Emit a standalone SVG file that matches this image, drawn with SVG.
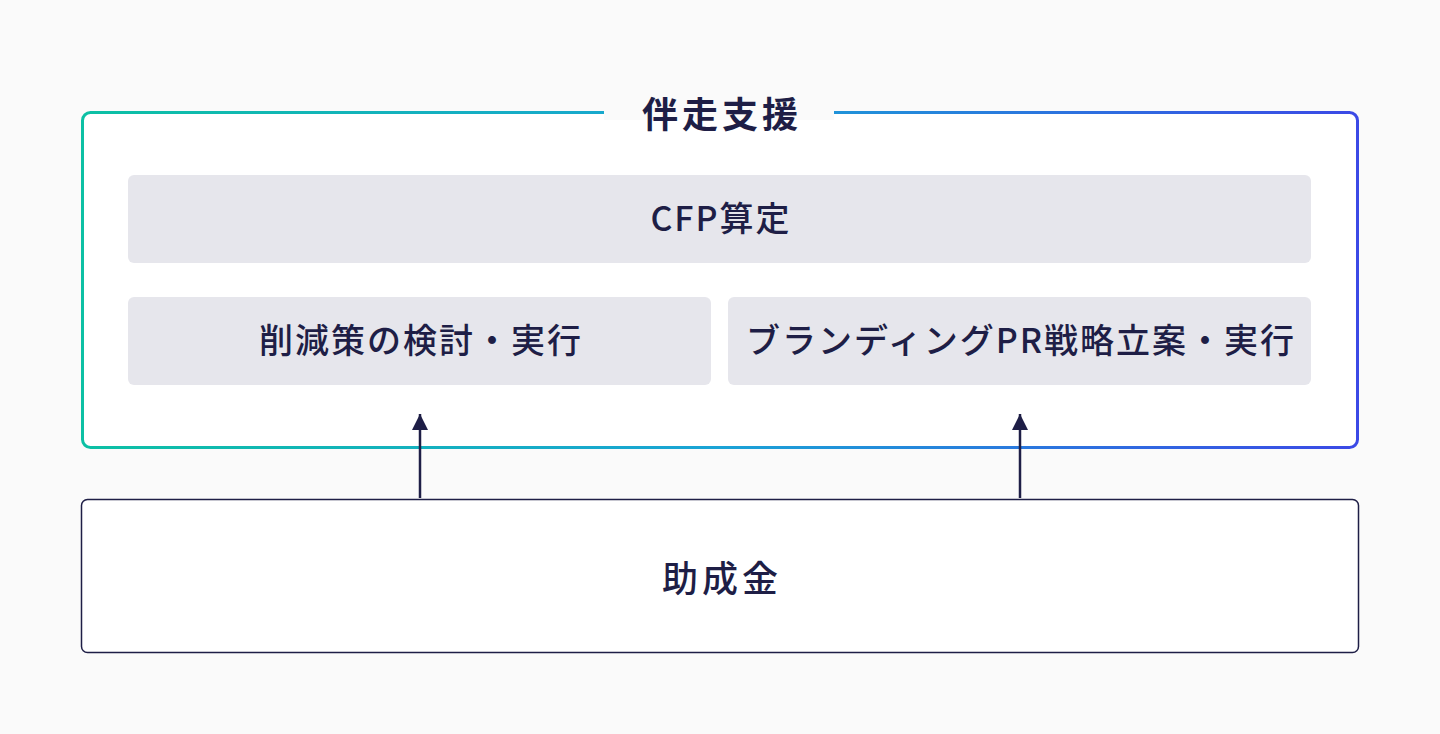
<svg xmlns="http://www.w3.org/2000/svg" width="1440" height="734" viewBox="0 0 1440 734">
<defs>
<linearGradient id="g" x1="0" y1="0" x2="1" y2="0"><stop offset="0" stop-color="#0cc0a4"/><stop offset="0.5" stop-color="#1aa3d6"/><stop offset="1" stop-color="#3b49e6"/></linearGradient>
<marker id="ah" viewBox="0 0 16 16" markerWidth="16" markerHeight="16" refX="16" refY="8" orient="auto" markerUnits="userSpaceOnUse"><path d="M16 8 L0 0 L0 16 Z" fill="#1e1e46"/></marker>
<style>
text{font-family:"Noto Sans CJK JP","Noto Sans",sans-serif;fill:#1e1e46;text-anchor:middle}
.b{fill:#e6e6ec}
.t{font-size:34px;font-weight:500;letter-spacing:2px}
</style>
</defs>
<rect width="1440" height="734" fill="#fafafa"/>
<g id="frame">
<rect x="82.5" y="112.5" width="1275" height="335" rx="8" fill="#fff" stroke="url(#g)" stroke-width="3"/>
<rect x="604" y="100" width="230" height="20" fill="#fafafa"/>
<text x="722" y="128" font-size="36" font-weight="700" letter-spacing="4">伴走支援</text>
</g>
<g id="cfp"><rect class="b" x="128" y="175" width="1183" height="88" rx="6"/><text class="t" x="721" y="231">CFP算定</text></g>
<g id="reduce"><rect class="b" x="128" y="297" width="583" height="88" rx="6"/><text class="t" x="421" y="353">削減策の検討・実行</text></g>
<g id="brand"><rect class="b" x="728" y="297" width="583" height="88" rx="6"/><text class="t" x="1021" y="353">ブランディングPR戦略立案・実行</text></g>
<g id="grant"><rect x="81.5" y="499.5" width="1277" height="153" rx="6" fill="#fff" stroke="#1e1e46" stroke-width="1.5"/><text x="722" y="592" font-size="36" font-weight="500" letter-spacing="4">助成金</text></g>
<g id="connectors" stroke="#1e1e46" stroke-width="2.5">
<line x1="420" y1="498" x2="420" y2="414" marker-end="url(#ah)"/>
<line x1="1020" y1="498" x2="1020" y2="414" marker-end="url(#ah)"/>
</g>
</svg>
